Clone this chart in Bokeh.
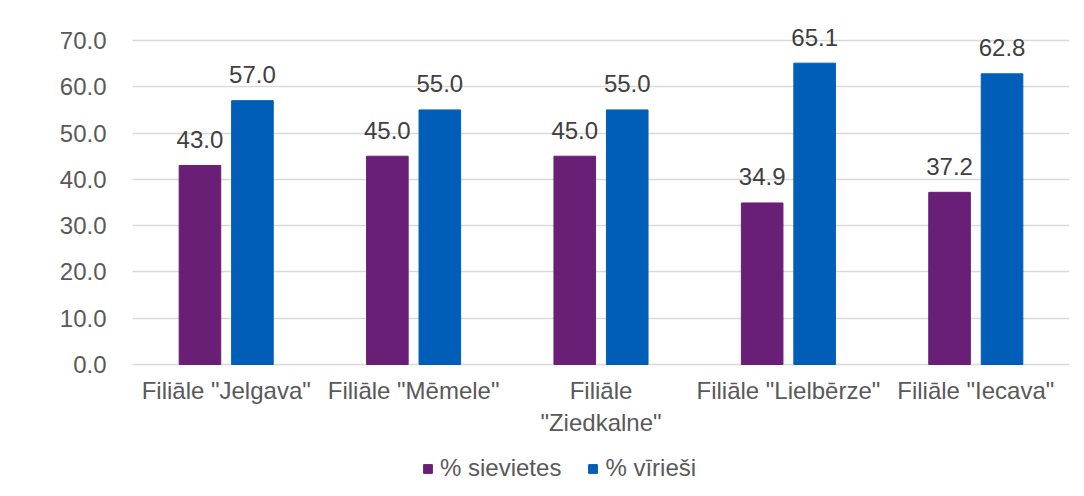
from bokeh.plotting import figure
from bokeh.models import ColumnDataSource, Range1d, FixedTicker, NumeralTickFormatter, Legend, LegendItem
from bokeh.transform import dodge
from bokeh.core.properties import value
from bokeh.embed import file_html
from bokeh.resources import INLINE

categories = ['Filiāle "Jelgava"', 'Filiāle "Mēmele"', 'Filiāle\n"Ziedkalne"',
              'Filiāle "Lielbērze"', 'Filiāle "Iecava"']
sievietes = [43.0, 45.0, 45.0, 34.9, 37.2]
viriesi = [57.0, 55.0, 55.0, 65.1, 62.8]
y_ticks = [0, 10, 20, 30, 40, 50, 60, 70]
series_names = ["% sievietes", "% vīrieši"]
colors = ["#6A1F76", "#005EB8"]

src = ColumnDataSource(dict(
    cat=categories, s=sievietes, v=viriesi,
    s_lbl=[f"{x:.1f}" for x in sievietes],
    v_lbl=[f"{x:.1f}" for x in viriesi],
))

FONT = "Liberation Sans"
FS = "24px"

# frame spans 16..488 px; 0..70 occupies 324 px, 70-gridline 24 px below frame top
PX_PER_UNIT = 324 / 70
y_top = 70 + 24 / PX_PER_UNIT
y_bottom = -124 / PX_PER_UNIT

p = figure(x_range=categories, y_range=Range1d(y_bottom, y_top),
           frame_width=937, frame_height=472,
           output_backend="svg", toolbar_location=None,
           min_border_left=132, min_border_right=7, min_border_top=16, min_border_bottom=0)
p.outline_line_color = None
p.background_fill_color = "white"
p.border_fill_color = "white"

r1 = p.vbar(x=dodge("cat", -0.14, range=p.x_range), top="s", bottom=0, width=0.222, source=src,
            fill_color=colors[0], line_color=colors[0])
r2 = p.vbar(x=dodge("cat", 0.14, range=p.x_range), top="v", bottom=0, width=0.222, source=src,
            fill_color=colors[1], line_color=colors[1])

p.text(x=dodge("cat", -0.14, range=p.x_range), y="s", text="s_lbl", source=src,
       text_font=value(FONT), text_font_size=FS, text_color="#404040",
       text_align="center", text_baseline="alphabetic", y_offset=-26)
p.text(x=dodge("cat", 0.14, range=p.x_range), y="v", text="v_lbl", source=src,
       text_font=value(FONT), text_font_size=FS, text_color="#404040",
       text_align="center", text_baseline="alphabetic", y_offset=-26)

p.yaxis.ticker = FixedTicker(ticks=y_ticks)
p.yaxis.formatter = NumeralTickFormatter(format="0.0")
p.yaxis.axis_line_color = None
p.yaxis.major_tick_line_color = None
p.yaxis.minor_tick_line_color = None
p.yaxis.major_label_standoff = 20
p.yaxis.major_label_text_font = FONT
p.yaxis.major_label_text_font_size = FS
p.yaxis.major_label_text_color = "#595959"

p.xaxis.fixed_location = 0
p.xaxis.axis_line_color = None
p.xaxis.major_tick_line_color = None
p.xaxis.major_label_standoff = 6
p.xaxis.major_label_text_font = FONT
p.xaxis.major_label_text_font_size = FS
p.xaxis.major_label_text_color = "#595959"

p.xgrid.grid_line_color = None
p.ygrid.grid_line_color = "#d9d9d9"
p.ygrid.grid_line_width = 1.5
p.ygrid.ticker = FixedTicker(ticks=y_ticks)

legend = Legend(items=[LegendItem(label=series_names[0], renderers=[r1]),
                       LegendItem(label=series_names[1], renderers=[r2])],
                orientation="horizontal", location=(290, 6),
                glyph_width=11, glyph_height=11, label_standoff=7, spacing=26,
                padding=0, margin=0, border_line_color=None, background_fill_alpha=0,
                label_text_font=FONT, label_text_font_size=FS, label_text_color="#595959")
p.add_layout(legend, "center")

open("out.html", "w").write(file_html(p, INLINE))
